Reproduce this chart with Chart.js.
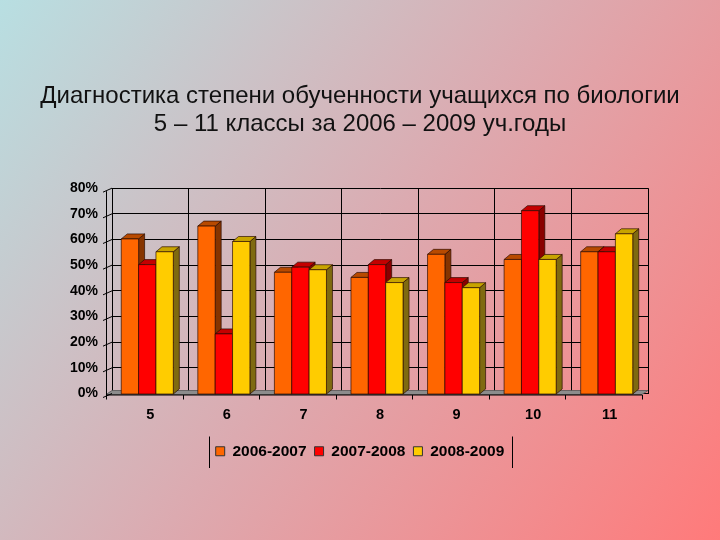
<!DOCTYPE html>
<html>
<head>
<meta charset="utf-8">
<script src="https://cdn.jsdelivr.net/npm/chart.js@4.4.1/dist/chart.umd.min.js"></script>
<style>
  html, body { margin: 0; padding: 0; background: #d8a8ae; }
  #c { display: block; }
</style>
</head>
<body>
<canvas id="c" width="720" height="540"></canvas>
<script>
const titleLines = ['Диагностика степени обученности учащихся по биологии', '5 – 11 классы за 2006 – 2009 уч.годы'];
const categories = ['5', '6', '7', '8', '9', '10', '11'];
const seriesNames = ['2006-2007', '2007-2008', '2008-2009'];
const s2006 = [61, 66, 48, 46, 55, 53, 56];
const s2007 = [51, 24, 50, 51, 44, 72, 56];
const s2008 = [56, 60, 49, 44, 42, 53, 63];
const yTickValues = [0, 10, 20, 30, 40, 50, 60, 70, 80];

const frontColors = ['#ff6600', '#ff0000', '#ffcc00'];
const capColors = ['#b84a00', '#c40000', '#c8a400'];
const sideColors = ['#863400', '#8a0000', '#7f6a10'];

const DX = 6, DY = 5;
const FONT = "'Liberation Sans', Arial, sans-serif";

const bgPlugin = {
  id: 'bg',
  beforeDraw(chart) {
    const ctx = chart.ctx;
    const g = ctx.createLinearGradient(0, 0, chart.width, chart.height);
    g.addColorStop(0, '#b8dfe2');
    g.addColorStop(0.5, '#dcaab0');
    g.addColorStop(1, '#ff7a7a');
    ctx.save();
    ctx.fillStyle = g;
    ctx.fillRect(0, 0, chart.width, chart.height);
    ctx.restore();
  }
};

function poly(ctx, pts, fill, stroke) {
  ctx.beginPath();
  ctx.moveTo(pts[0][0], pts[0][1]);
  for (let i = 1; i < pts.length; i++) ctx.lineTo(pts[i][0], pts[i][1]);
  ctx.closePath();
  ctx.fillStyle = fill;
  ctx.fill();
  if (stroke) { ctx.strokeStyle = stroke; ctx.lineWidth = 0.8; ctx.stroke(); }
}

const bars3d = {
  id: 'bars3d',
  beforeDatasetsDraw(chart) {
    const ctx = chart.ctx;
    const a = chart.chartArea;
    const xs = chart.scales.x, ys = chart.scales.y;
    ctx.save();
    // floor
    poly(ctx, [[a.left, a.bottom - 3], [a.right, a.bottom - 3], [a.right - DX, a.bottom + 1], [a.left - DX, a.bottom + 1]], '#8c8c8c', '#555');
    // front axis line
    ctx.strokeStyle = '#000';
    ctx.lineWidth = 1;
    ctx.beginPath();
    ctx.moveTo(a.left - DX, a.bottom + 1.5);
    ctx.lineTo(a.right - DX, a.bottom + 1.5);
    ctx.stroke();
    // x tick marks at front boundaries
    const n = categories.length;
    const cw = (a.right - a.left) / n;
    ctx.beginPath();
    for (let i = 0; i <= n; i++) {
      const bx = xs.getPixelForValue(0) - cw / 2 + i * cw - DX;
      ctx.moveTo(Math.round(bx) + 0.5, a.bottom + 1.5);
      ctx.lineTo(Math.round(bx) + 0.5, a.bottom + 6);
    }
    ctx.stroke();
    // left wall front edge and slanted ticks
    ctx.beginPath();
    ctx.moveTo(a.left - DX + 0.5, a.top + 3);
    ctx.lineTo(a.left - DX + 0.5, a.bottom + 1.5);
    yTickValues.forEach(v => {
      const py = ys.getPixelForValue(v);
      ctx.moveTo(a.left - DX - 3, py + DY - 1);
      ctx.lineTo(a.left, py);
    });
    ctx.stroke();

    // bars
    chart.data.datasets.forEach((ds, di) => {
      const meta = chart.getDatasetMeta(di);
      if (meta.hidden) return;
      meta.data.forEach(el => {
        const w = el.width;
        const l = el.x - w / 2 - 3, r = l + w;
        const t = el.y + 2, b = el.base + 1;
        poly(ctx, [[r, t], [r + DX, t - DY], [r + DX, b - DY], [r, b]], sideColors[di], 'rgba(40,10,0,0.85)');
        poly(ctx, [[l, t], [r, t], [r + DX, t - DY], [l + DX, t - DY]], capColors[di], 'rgba(40,10,0,0.85)');
        poly(ctx, [[l, t], [r, t], [r, b], [l, b]], frontColors[di], 'rgba(40,10,0,0.85)');
      });
    });
    ctx.restore();
    return false;
  }
};

const legendLines = {
  id: 'legendLines',
  afterDraw(chart) {
    const lg = chart.legend;
    if (!lg || !lg.legendHitBoxes || !lg.legendHitBoxes.length) return;
    const hb = lg.legendHitBoxes;
    const first = hb[0], last = hb[hb.length - 1];
    const x1 = Math.round(first.left - 7) + 0.5;
    const x2 = Math.round(last.left + last.width + 8) + 0.5;
    const y1 = lg.top + 1, y2 = lg.bottom - 1;
    const ctx = chart.ctx;
    ctx.save();
    ctx.strokeStyle = '#000';
    ctx.lineWidth = 1;
    ctx.beginPath();
    ctx.moveTo(x1, y1); ctx.lineTo(x1, y2);
    ctx.moveTo(x2, y1); ctx.lineTo(x2, y2);
    ctx.stroke();
    ctx.restore();
  }
};

const seriesData = [s2006, s2007, s2008];

new Chart(document.getElementById('c'), {
  type: 'bar',
  data: {
    labels: categories,
    datasets: seriesNames.map((name, i) => ({
      label: name,
      data: seriesData[i],
      backgroundColor: frontColors[i],
      borderColor: '#333',
      borderWidth: 1,
      categoryPercentage: 0.68,
      barPercentage: 1.0
    }))
  },
  options: {
    responsive: false,
    animation: false,
    layout: { padding: { left: 0, right: 0, top: 0, bottom: 71 } },
    plugins: {
      title: {
        display: true,
        text: titleLines,
        color: '#111',
        font: { family: FONT, size: 24, weight: 'normal', lineHeight: 1.17 },
        padding: { top: 82, bottom: 50 }
      },
      legend: {
        position: 'bottom',
        labels: {
          boxWidth: 9,
          boxHeight: 9,
          padding: 8,
          color: '#000',
          font: { family: FONT, size: 15.5, weight: 'bold' }
        }
      },
      tooltip: { enabled: false }
    },
    scales: {
      x: {
        grid: { color: '#000', lineWidth: 1, offset: true, drawTicks: false },
        border: { display: false },
        ticks: { color: '#000', font: { family: FONT, size: 14.5, weight: 'bold' }, padding: 13 },
        afterFit: s => { s.height = 42; }
      },
      y: {
        min: 0,
        max: 80,
        afterBuildTicks: s => { s.ticks = yTickValues.map(v => ({ value: v })); },
        ticks: {
          color: '#000',
          font: { family: FONT, size: 14, weight: 'bold' },
          padding: 14,
          callback: v => v + '%'
        },
        grid: { color: '#000', lineWidth: 1, drawTicks: false },
        border: { display: true, color: '#000' },
        afterFit: s => { s.width = 112; }
      },
      yRightSpace: {
        position: 'right',
        display: true,
        min: 0,
        max: 80,
        grid: { display: false, drawTicks: false },
        border: { display: false },
        ticks: { display: false },
        afterFit: s => { s.width = 72; }
      }
    }
  },
  plugins: [bgPlugin, bars3d, legendLines]
});
</script>
</body>
</html>
